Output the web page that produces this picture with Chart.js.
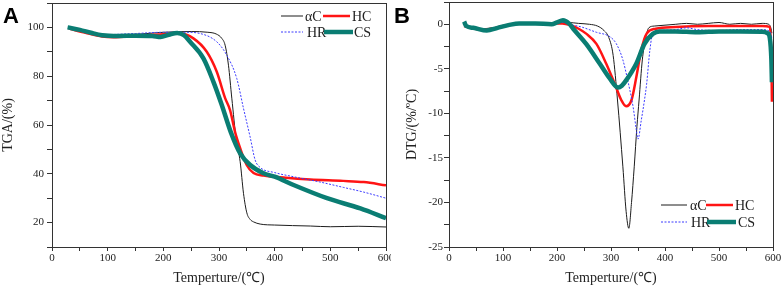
<!DOCTYPE html>
<html>
<head>
<meta charset="utf-8">
<script src="https://cdn.jsdelivr.net/npm/chart.js@4.4.1/dist/chart.umd.min.js"></script>
<style>
  html, body { margin: 0; padding: 0; background: #fff; }
  #wrap { position: relative; width: 782px; height: 287px; }
  #wrap canvas { position: absolute; top: 0; }
</style>
</head>
<body>
<div id="wrap">
  <canvas id="tga" width="391" height="287" style="left:0"></canvas>
  <canvas id="dtg" width="391" height="287" style="left:391px"></canvas>
</div>
<script>
// ---- panel A: TGA (%) vs temperature (°C)
const tgaAcT = [30, 60, 90, 120, 160, 200, 250, 280, 295, 305, 311, 317, 323, 331, 338, 344, 350, 356, 362, 374, 400, 464, 500, 550, 600];
const tgaAc = [99.5, 98.2, 97.2, 97.0, 97.3, 98.0, 98.3, 98.0, 97.3, 95.5, 92.7, 84.5, 71, 54, 45, 32, 24, 21.3, 20.3, 19.4, 19.0, 18.6, 18.3, 18.5, 18.2];
const tgaHcT = [30, 60, 90, 110, 150, 200, 230, 254, 278, 296, 311, 320, 329, 338, 350, 362, 380, 420, 464, 523, 560, 600];
const tgaHc = [99.5, 97.8, 96.3, 96.0, 96.5, 97.2, 97.5, 95.5, 90, 81.8, 71, 66, 57, 50.5, 43.5, 40.3, 39.3, 38.4, 37.7, 37.1, 36.6, 35.3];
const tgaHrT = [30, 60, 90, 150, 200, 240, 266, 296, 314, 332, 344, 356, 365, 374, 400, 434, 480, 524, 560, 600];
const tgaHr = [99.5, 98, 97, 97.5, 98, 98, 97.5, 94.1, 88.6, 79, 66.8, 55, 45.6, 42.6, 40.5, 38.8, 36.7, 34.4, 32.5, 30];
const tgaCsT = [28, 50, 70, 90, 120, 150, 180, 195, 210, 225, 237, 248, 272, 290, 305, 321, 338, 356, 380, 400, 434, 494, 554, 600];
const tgaCs = [100, 99, 97.8, 96.8, 96.5, 96.6, 96.5, 96.1, 97, 97.7, 96.8, 94.1, 87.3, 77.7, 68.2, 57.2, 48.4, 43.6, 40.2, 38.8, 35.4, 30, 25.8, 21.8];

// ---- panel B: DTG (%/°C) vs temperature (°C)
const dtgAcT = [28, 32, 45, 60, 80, 100, 120, 140, 160, 180, 200, 220, 240, 260, 275, 287, 296, 304, 312, 322, 328, 333, 338, 343, 348, 352, 358, 364, 370, 380, 400, 420, 440, 460, 480, 500, 520, 540, 560, 580, 592, 596, 598];
const dtgAc = [0.2, -0.3, -0.4, -0.5, -0.4, -0.2, 0.1, 0.2, 0.1, 0.2, 0.1, 0.2, 0.1, 0.0, -0.2, -0.7, -1.5, -3.5, -8.5, -16, -21, -22.9, -20, -16, -11.5, -8.5, -4, -1.6, -0.4, -0.2, -0.1, 0.0, 0.1, 0.0, 0.1, 0.2, 0.0, 0.1, 0.0, 0.1, 0.0, -0.4, -1.0];
const dtgHcT = [28, 40, 60, 80, 100, 130, 160, 190, 210, 225, 240, 254, 273, 291, 307, 319, 328, 338, 347, 356, 366, 383, 420, 480, 540, 580, 594, 597, 598];
const dtgHc = [-0.2, -0.4, -0.6, -0.5, -0.2, 0.1, 0.1, 0.1, 0.1, -0.1, -0.5, -1.05, -2.2, -4.4, -6.7, -8.5, -9.2, -8.5, -5.9, -2.9, -1.05, -0.5, -0.3, -0.2, -0.2, -0.2, -0.3, -4, -8.7];
const dtgHrT = [28, 35, 60, 80, 100, 130, 160, 190, 210, 230, 245, 273, 298, 310, 322, 331, 341, 347, 350, 356, 362, 366, 372, 378, 390, 420, 440, 460, 500, 540, 580, 594, 598];
const dtgHr = [0.2, -0.4, -0.6, -0.5, -0.2, 0.2, 0.1, 0.1, 0.2, -0.1, -0.3, -0.9, -1.4, -2.2, -4.0, -6.3, -9.3, -11.9, -12.9, -10.8, -8.5, -6.7, -2.9, -0.9, -0.7, -0.6, -0.4, -0.6, -0.7, -0.6, -0.6, -0.8, -1.5];
const dtgCsT = [28, 32, 45, 70, 90, 110, 130, 160, 190, 200, 211, 222, 230, 254, 279, 298, 313, 320, 328, 347, 362, 378, 390, 420, 460, 500, 540, 580, 590, 594, 597, 598];
const dtgCs = [0.3, -0.2, -0.4, -0.7, -0.4, -0.1, 0.1, 0.1, 0.0, 0.2, 0.45, 0.1, -0.5, -2.2, -4.4, -6.1, -7.1, -6.9, -6.3, -4.4, -2.2, -1.05, -0.8, -0.8, -0.9, -0.8, -0.8, -0.85, -1.0, -1.5, -4, -6.5];

const seriesNames = ['αC', 'HC', 'HR', 'CS'];
const xTicks = [0, 100, 200, 300, 400, 500, 600];

const SERIF = "'Liberation Serif', 'Times New Roman', serif";
const INK = '#222';

const pts = (xs, ys) => xs.map((x, i) => ({ x, y: ys[i] }));

const styles = [
  { borderColor: '#1c1c1c', borderWidth: 1, order: 3 },
  { borderColor: '#ff1414', borderWidth: 2.5, order: 2 },
  { borderColor: '#3b3bff', borderWidth: 1, borderDash: [2, 1.5], order: 1 },
  { borderColor: '#0a7d73', borderWidth: 4.5, order: 0 },
];

function makeDatasets(list) {
  return list.map((d, i) => ({
    label: seriesNames[i],
    data: pts(d[0], d[1]),
    showLine: true,
    fill: false,
    pointRadius: 0,
    cubicInterpolationMode: 'monotone',
    ...styles[i],
  }));
}

// frame, panel letter and Origin-style legend
const decorPlugin = {
  id: 'decor',
  afterDraw(chart, args, opts) {
    const { ctx, chartArea: a } = chart;
    ctx.save();
    ctx.strokeStyle = '#333';
    ctx.lineWidth = 1;
    ctx.strokeRect(Math.round(a.left) + 0.5, Math.round(a.top) + 0.5, Math.round(a.right - a.left), Math.round(a.bottom - a.top));

    ctx.fillStyle = '#000';
    ctx.font = "bold 22px 'Liberation Sans', Arial, sans-serif";
    ctx.textBaseline = 'alphabetic';
    ctx.fillText(opts.letter, 3, 23);

    ctx.font = '14px ' + SERIF;
    ctx.textBaseline = 'middle';
    opts.legend.forEach((it) => {
      const ds = chart.data.datasets[it.ds];
      ctx.strokeStyle = ds.borderColor;
      ctx.lineWidth = ds.borderWidth;
      ctx.setLineDash(ds.borderDash || []);
      ctx.beginPath();
      ctx.moveTo(it.x, it.y);
      ctx.lineTo(it.x + it.len, it.y);
      ctx.stroke();
      ctx.setLineDash([]);
      ctx.fillStyle = INK;
      ctx.fillText(ds.label, it.x + it.len + it.gap, it.y + 1);
    });
    ctx.restore();
  },
};

function buildConfig(o) {
  return {
    type: 'scatter',
    data: { datasets: makeDatasets(o.series) },
    plugins: [decorPlugin],
    options: {
      responsive: false,
      animation: false,
      layout: { padding: o.padding },
      plugins: {
        legend: { display: false },
        tooltip: { enabled: false },
        decor: { letter: o.letter, legend: o.legend },
      },
      scales: {
        x: {
          type: 'linear',
          min: 0,
          max: 600,
          afterFit: (s) => { s.height = 40; s.paddingLeft = 0; s.paddingRight = 0; },
          afterBuildTicks: (s) => {
            const t = [];
            for (let v = 0; v <= 600; v += 50) t.push({ value: v });
            s.ticks = t;
          },
          ticks: {
            autoSkip: false,
            maxRotation: 0,
            padding: 1,
            color: INK,
            font: { family: SERIF, size: 11 },
            callback: (v) => (xTicks.includes(v) ? v : ''),
          },
          grid: { drawOnChartArea: false, tickLength: 4, color: '#333' },
          border: { color: '#333' },
          title: {
            display: true,
            text: 'Temperture/(℃)',
            color: INK,
            font: { family: SERIF, size: 14 },
            padding: { top: 0, bottom: 0 },
          },
        },
        y: {
          type: 'linear',
          min: o.yMin,
          max: o.yMax,
          afterFit: (s) => { s.width = o.yWidth; s.paddingTop = 0; s.paddingBottom = 0; },
          ticks: {
            stepSize: o.yStep,
            autoSkip: false,
            padding: o.yTickPad,
            color: INK,
            font: { family: SERIF, size: 11 },
            callback: o.yLabel,
          },
          grid: { drawOnChartArea: false, tickLength: 5, color: '#333' },
          border: { color: '#333' },
          title: {
            display: true,
            text: o.yTitle,
            color: INK,
            font: { family: SERIF, size: 14 },
            padding: { top: o.yTitlePad, bottom: 0 },
          },
        },
      },
    },
  };
}

new Chart(document.getElementById('tga'), buildConfig({
  letter: 'A',
  series: [[tgaAcT, tgaAc], [tgaHcT, tgaHc], [tgaHrT, tgaHr], [tgaCsT, tgaCs]],
  padding: { left: 0, right: 5, top: 3, bottom: 0 },
  yMin: 10, yMax: 110, yStep: 10, yWidth: 52, yTickPad: 3, yTitlePad: 0,
  yLabel: (v) => (v % 20 === 0 && v >= 20 && v <= 100 ? v : ''),
  yTitle: 'TGA/(%)',
  legend: [
    { ds: 0, x: 281, y: 16, len: 22, gap: 2 },
    { ds: 1, x: 323, y: 16, len: 27, gap: 2 },
    { ds: 2, x: 281, y: 32, len: 22, gap: 4 },
    { ds: 3, x: 324, y: 32, len: 29, gap: 1 },
  ],
}));

new Chart(document.getElementById('dtg'), buildConfig({
  letter: 'B',
  series: [[dtgAcT, dtgAc], [dtgHcT, dtgHc], [dtgHrT, dtgHr], [dtgCsT, dtgCs]],
  padding: { left: 0, right: 9, top: 2, bottom: 0 },
  yMin: -25, yMax: 2.5, yStep: 2.5, yWidth: 58, yTickPad: 1, yTitlePad: 13,
  yLabel: (v) => (v % 5 === 0 ? v : ''),
  yTitle: 'DTG/(%/ºC)',
  legend: [
    { ds: 0, x: 270, y: 205, len: 26, gap: 3 },
    { ds: 1, x: 315, y: 205, len: 27, gap: 2 },
    { ds: 2, x: 270, y: 222, len: 26, gap: 4 },
    { ds: 3, x: 316, y: 222, len: 29, gap: 2 },
  ],
}));
</script>
</body>
</html>
